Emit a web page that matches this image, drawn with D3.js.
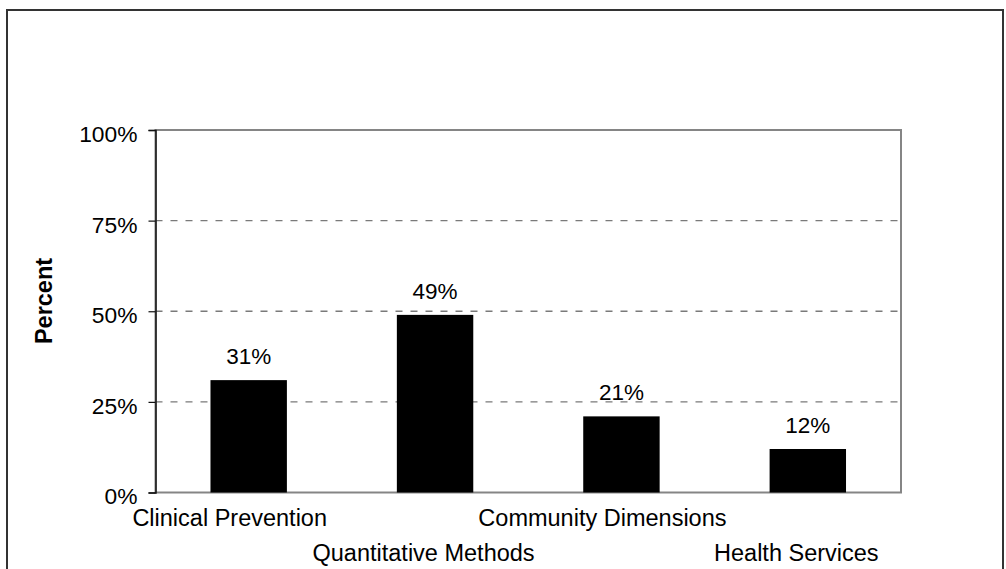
<!DOCTYPE html>
<html>
<head>
<meta charset="utf-8">
<script src="https://cdn.jsdelivr.net/npm/d3@7"></script>
<style>
  html, body { margin: 0; padding: 0; background: #fff; }
  text { font-family: "Liberation Sans", Arial, sans-serif; fill: #000; }
</style>
</head>
<body>
<svg id="chart" width="1006" height="569"></svg>
<script>
const categories = ["Clinical Prevention", "Quantitative Methods", "Community Dimensions", "Health Services"];
const values = [31, 49, 21, 12];
const valueLabels = ["31%", "49%", "21%", "12%"];
const yTicks = [0, 25, 50, 75, 100];
const yTickLabels = ["0%", "25%", "50%", "75%", "100%"];
const yAxisTitle = "Percent";

const svg = d3.select("#chart");
const plotLeft = 155.5, plotRight = 901, plotTop = 130, plotBottom = 492.5;

// outer frame
svg.append("rect")
  .attr("x", 7).attr("y", 10).attr("width", 996).attr("height", 580)
  .attr("fill", "none").attr("stroke", "#333").attr("stroke-width", 2);

const x = d3.scaleBand().domain(categories).range([plotLeft, plotRight]).padding(0);
const y = d3.scaleLinear().domain([0, 100]).range([plotBottom, plotTop]);

// gridlines
svg.append("g").selectAll("line")
  .data(yTicks.filter(t => t > 0 && t < 100))
  .join("line")
  .attr("x1", plotLeft).attr("x2", plotRight)
  .attr("y1", d => y(d)).attr("y2", d => y(d))
  .attr("stroke", "#7a7a7a").attr("stroke-width", 1.3)
  .attr("stroke-dasharray", "7,8");

// plot frame
svg.append("rect")
  .attr("x", plotLeft).attr("y", plotTop).attr("width", plotRight - plotLeft).attr("height", plotBottom - plotTop)
  .attr("fill", "none").attr("stroke", "#858585").attr("stroke-width", 2);

// bars
const barW = x.bandwidth() * 0.41;
svg.append("g").selectAll("rect")
  .data(categories)
  .join("rect")
  .attr("x", (d) => x(d) + x.bandwidth() / 2 - barW / 2)
  .attr("y", (d, i) => y(values[i]))
  .attr("width", barW)
  .attr("height", (d, i) => y(0) - y(values[i]))
  .attr("fill", "#000");

// value labels
svg.append("g").selectAll("text")
  .data(categories)
  .join("text")
  .attr("x", d => x(d) + x.bandwidth() / 2)
  .attr("y", (d, i) => y(values[i]) - 16)
  .attr("text-anchor", "middle")
  .style("font-size", "22.5px")
  .text((d, i) => valueLabels[i]);

// left axis
const yAxis = d3.axisLeft(y).tickValues(yTicks).tickSize(7).tickPadding(11)
  .tickFormat((d, i) => yTickLabels[i]);
const gy = svg.append("g").attr("transform", `translate(${plotLeft},0)`).call(yAxis);
gy.select(".domain").attr("stroke", "#111").attr("stroke-width", 1.5);
gy.selectAll(".tick line").attr("stroke", "#111").attr("stroke-width", 1.2);
gy.selectAll(".tick text")
  .style("font-size", "22.8px")
  .style("font-family", "'Liberation Sans', Arial, sans-serif")
  .attr("fill", "#000").attr("dy", "0.5em");

// category labels (staggered)
svg.append("g").selectAll("text")
  .data(categories)
  .join("text")
  .attr("x", (d, i) => x(d) + x.bandwidth() / 2 + (i % 2 === 0 ? -19 : -11.5))
  .attr("y", (d, i) => i % 2 === 0 ? 526 : 561)
  .attr("text-anchor", "middle")
  .style("font-size", "23.5px")
  .text(d => d);

// y axis title
svg.append("text")
  .attr("transform", "translate(52,301) rotate(-90)")
  .attr("text-anchor", "middle")
  .style("font-size", "23.5px")
  .style("font-weight", "bold")
  .text(yAxisTitle);
</script>
</body>
</html>
